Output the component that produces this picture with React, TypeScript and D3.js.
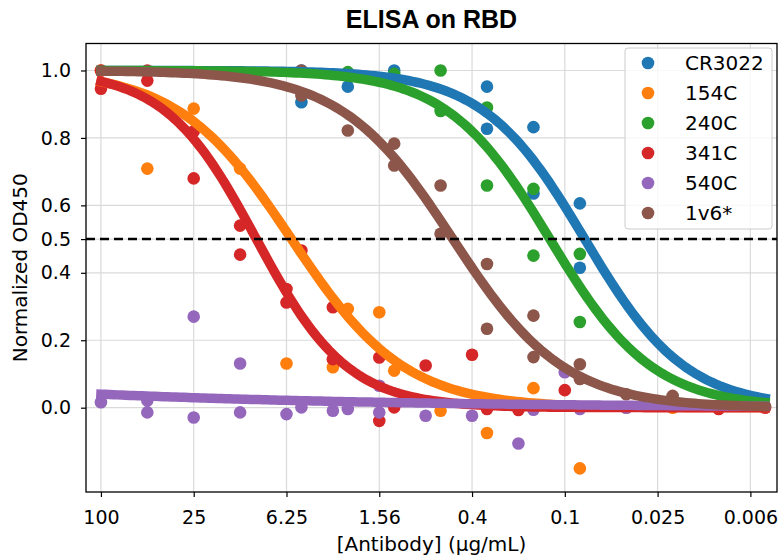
import React, { useEffect, useRef } from 'react';
import * as d3 from 'd3';

const WIDTH = 779;
const HEIGHT = 560;
const LEFT = 86;
const RIGHT = 777;
const TOP = 43.5;
const BOTTOM = 492;

const X_EXTENT = [125, 0.0041];
const Y_EXTENT = [-0.25, 1.08];
const CURVE_RANGE = [100, 0.0049];

const X_TICKS = [100, 25, 6.25, 1.5625, 0.390625, 0.09765625, 0.0244140625, 0.006103515625];
const X_TICK_LABELS = ['100', '25', '6.25', '1.56', '0.4', '0.1', '0.025', '0.006'];
const Y_TICKS = [0, 0.2, 0.4, 0.5, 0.6, 0.8, 1.0];
const Y_TICK_LABELS = ['0.0', '0.2', '0.4', '0.5', '0.6', '0.8', '1.0'];

const NAMES = ['CR3022', '154C', '240C', '341C', '540C', '1v6*'];
const COLORS = ['#1f77b4', '#ff7f0e', '#2ca02c', '#d62728', '#9467bd', '#8c564b'];

// fitted EC50 (ug/mL) and hill slope
const EC50 = [0.0725, 5.8, 0.122, 9.8, 1.26e8, 0.52];
const HILL = [1.32, 1.18, 1.3, 1.46, 0.226, 1.2];

// [concentration, normalized OD450]
const CR3022 = [
	[5, 1.0], [5, 0.906], [2.5, 0.952], [1.25, 1.0], [0.3125, 0.952], [0.3125, 0.827],
	[0.156, 0.832], [0.156, 0.635], [0.078, 0.606], [0.078, 0.415],
];
const C154 = [
	[100, 1.0], [50, 0.709], [25, 0.887], [12.5, 0.709], [6.25, 0.131], [3.125, 0.12],
	[1.5625, 0.283], [2.5, 0.293], [1.25, 0.11], [0.625, -0.009], [0.3125, -0.075],
	[0.156, 0.058], [0.078, -0.18], [0.039, 0.0], [0.0195, 0.0], [0.0098, 0.0],
];
const C240 = [
	[2.5, 0.995], [1.25, 0.99], [0.625, 1.0], [0.625, 0.88], [0.3125, 0.89], [0.3125, 0.659],
	[0.156, 0.649], [0.156, 0.451], [0.078, 0.456], [0.078, 0.254],
];
const C341 = [
	[100, 1.0], [100, 0.946], [50, 1.0], [50, 0.97], [25, 0.82], [25, 0.68], [12.5, 0.54],
	[12.5, 0.454], [5, 0.466], [6.25, 0.352], [6.25, 0.312], [3.125, 0.298], [3.125, 0.144],
	[1.5625, 0.149], [1.5625, -0.039], [1.25, 0.001], [0.78125, 0.125], [0.390625, 0.157],
	[0.3125, -0.004], [0.1953, -0.007], [0.0977, 0.052], [0.0098, -0.004], [0.0049, 0.0],
];
const C540 = [
	[100, 0.016], [50, -0.014], [50, 0.021], [25, -0.029], [25, 0.27], [12.5, 0.131],
	[12.5, -0.014], [6.25, -0.019], [5, 0.001], [3.125, -0.009], [2.5, -0.004],
	[1.5625, 0.065], [1.5625, -0.014], [0.78125, -0.024], [0.390625, -0.024],
	[0.1953, -0.106], [0.156, -0.006], [0.0977, 0.105], [0.078, -0.004], [0.039, 0.0],
];
const C1V6 = [
	[5, 1.0], [5, 0.926], [2.5, 0.822], [1.25, 0.783], [1.25, 0.718], [0.625, 0.659],
	[0.625, 0.516], [0.3125, 0.426], [0.3125, 0.234], [0.156, 0.273], [0.156, 0.15],
	[0.078, 0.129], [0.078, 0.085], [0.039, 0.04], [0.0195, 0.035], [0.0098, 0.005], [0.0049, 0.004],
];
const POINTS = [CR3022, C154, C240, C341, C540, C1V6];

const FONT = 'DejaVu Sans, sans-serif';

const hill = (c: number, ec50: number, h: number) => 1 / (1 + Math.pow(ec50 / c, h));

const XAxis = ({ x }: { x: any }) => {
	const axis = useRef<SVGGElement>(null);
	useEffect(() => {
		const g = d3.select(axis.current);
		g.call(
			d3.axisBottom(x).tickValues(X_TICKS).tickSize(5).tickPadding(14)
				.tickFormat((d: any, i: number) => X_TICK_LABELS[i])
		);
		g.select('.domain').remove();
		g.selectAll('line').attr('stroke', '#000').attr('stroke-width', 1.2);
		g.selectAll('text').attr('font-size', 19).attr('font-family', FONT).attr('fill', '#000');
	}, []);
	return <g ref={axis} transform={`translate(0, ${BOTTOM})`} />;
};

const YAxis = ({ y }: { y: any }) => {
	const axis = useRef<SVGGElement>(null);
	useEffect(() => {
		const g = d3.select(axis.current);
		g.call(
			d3.axisLeft(y).tickValues(Y_TICKS).tickSize(5).tickPadding(10)
				.tickFormat((d: any, i: number) => Y_TICK_LABELS[i])
		);
		g.select('.domain').remove();
		g.selectAll('line').attr('stroke', '#000').attr('stroke-width', 1.2);
		g.selectAll('text').attr('font-size', 19).attr('font-family', FONT).attr('fill', '#000');
	}, []);
	return <g ref={axis} transform={`translate(${LEFT}, 0)`} />;
};

const App = () => {
	const x = d3.scaleLog().domain(X_EXTENT).range([LEFT, RIGHT]);
	const y = d3.scaleLinear().domain(Y_EXTENT).range([BOTTOM, TOP]);

	const samples = d3.range(0, 161).map((i) => CURVE_RANGE[0] * Math.pow(CURVE_RANGE[1] / CURVE_RANGE[0], i / 160));
	const line = d3.line<number[]>().x((d) => x(d[0])).y((d) => y(d[1])).curve(d3.curveLinear);

	return (
		<svg width={WIDTH} height={HEIGHT} style={{ position: 'absolute', left: 0, top: 0, background: '#fff' }}>
			<rect x={0} y={0} width={WIDTH} height={HEIGHT} fill="#fff" />
			<defs>
				<clipPath id="plot">
					<rect x={LEFT} y={TOP} width={RIGHT - LEFT} height={BOTTOM - TOP} />
				</clipPath>
			</defs>
			{/* grid */}
			<g stroke="#dadada" strokeWidth={1.2}>
				{X_TICKS.map((t) => (
					<line key={'gx' + t} x1={x(t)} x2={x(t)} y1={TOP} y2={BOTTOM} />
				))}
				{Y_TICKS.map((t) => (
					<line key={'gy' + t} x1={LEFT} x2={RIGHT} y1={y(t)} y2={y(t)} />
				))}
			</g>
			<g clipPath="url(#plot)">
				{/* scatter below lines, like matplotlib zorder */}
				{POINTS.map((pts, k) => (
					<g key={'s' + k} fill={COLORS[k]}>
						{pts.map((d, i) => (
							<circle key={i} cx={x(d[0])} cy={y(d[1])} r={6.3} />
						))}
					</g>
				))}
				{NAMES.map((n, k) => (
					<path
						key={'l' + n}
						d={line(samples.map((c) => [c, hill(c, EC50[k], HILL[k])])) || ''}
						fill="none"
						stroke={COLORS[k]}
						strokeWidth={9.5}
						strokeLinecap="square"
					/>
				))}
				<line x1={LEFT} x2={RIGHT} y1={y(0.5)} y2={y(0.5)} stroke="#000" strokeWidth={2.5} strokeDasharray="9,5" />
			</g>
			<rect x={LEFT} y={TOP} width={RIGHT - LEFT} height={BOTTOM - TOP} fill="none" stroke="#000" strokeWidth={1.3} />
			<XAxis x={x} />
			<YAxis y={y} />
			{/* legend */}
			<g>
				<rect x={625} y={48} width={147} height={181} rx={3} fill="#fff" fillOpacity={0.8} stroke="#cccccc" />
				{NAMES.map((n, k) => (
					<g key={'lg' + n} transform={`translate(0, ${63 + k * 30})`}>
						<circle cx={648} cy={0} r={6.3} fill={COLORS[k]} />
						<text x={685} y={0} dy="0.35em" fontSize={20} fontFamily={FONT} fill="#000">{n}</text>
					</g>
				))}
			</g>
			<text x={(LEFT + RIGHT) / 2} y={28} textAnchor="middle" fontSize={25} fontWeight="bold" fontFamily="Liberation Sans, Arial, sans-serif" fill="#000">
				ELISA on RBD
			</text>
			<text x={(LEFT + RIGHT) / 2} y={551} textAnchor="middle" fontSize={20} fontFamily={FONT} fill="#000">
				[Antibody] (µg/mL)
			</text>
			<text transform={`translate(27, ${(TOP + BOTTOM) / 2}) rotate(-90)`} textAnchor="middle" fontSize={20} fontFamily={FONT} fill="#000">
				Normalized OD450
			</text>
		</svg>
	);
};

export default App;
